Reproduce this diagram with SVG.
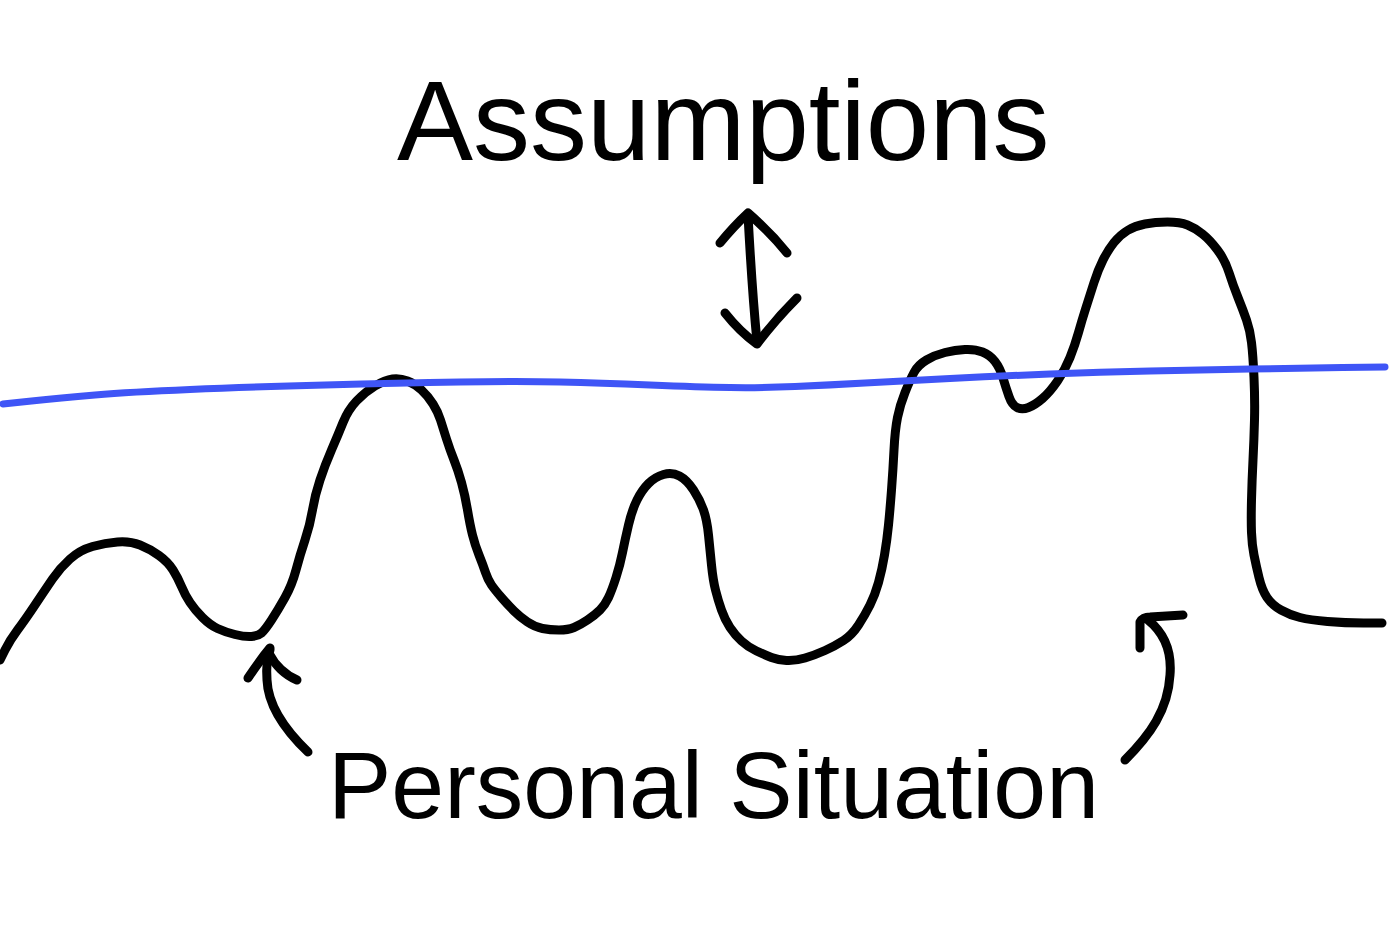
<svg xmlns="http://www.w3.org/2000/svg" width="1400" height="929" viewBox="0 0 1400 929">
<style>
.ink{fill:none;stroke:#000;stroke-width:9;stroke-linecap:round;stroke-linejoin:round}
.blue{fill:none;stroke:#3f55f6;stroke-width:7;stroke-linecap:round;stroke-linejoin:round}
.lbl{font-family:"Liberation Sans",Arial,sans-serif;fill:#000}
</style>
<rect width="1400" height="929" fill="#fff"/>
<g id="situation-curve">
<path class="ink" d="M0,660 L5,650 Q10,640 17.5,630 Q25,620 35,605 Q45,590 52.5,579 Q60,568 70,559 Q80,550 92.5,546.5 Q105,543 117.5,542 Q130,541 140,545 Q150,549 159,555.5 Q168,562 173,570 Q178,578 181.5,586.5 Q185,595 190,602.5 Q195,610 202.5,617.5 Q210,625 217.5,628.5 Q225,632 235,634.5 Q245,637 251.5,636.5 Q258,636 261.5,633 Q265,630 271.5,620 Q278,610 285,597.5 Q292,585 296,570 Q300,555 305,540 Q310,525 312.5,510 Q315,495 320,480 Q325,465 331.5,450 Q338,435 343,422.5 Q348,410 356.5,401 Q365,392 375,386 Q385,380 392.5,379 Q400,378 407.5,381 Q415,384 421.5,390 Q428,396 433,404 Q438,412 440.5,420 Q443,428 446.5,439 Q450,450 454,460 Q458,470 461.5,482.5 Q465,495 467.5,510 Q470,525 472.5,535 Q475,545 479,555 Q483,565 485.5,572.5 Q488,580 491.5,585 Q495,590 501.5,597.5 Q508,605 514,611 Q520,617 527.5,622 Q535,627 542.5,628.5 Q550,630 559,630 Q568,630 574,627.5 Q580,625 587.5,620 Q595,615 600,610 Q605,605 608.5,597.5 Q612,590 616,577.5 Q620,565 622.5,552.5 Q625,540 628.5,525 Q632,510 637,500 Q642,490 648.5,483.5 Q655,477 663.5,474.5 Q672,472 679.5,476 Q687,480 693.5,490 Q700,500 703.5,510 Q707,520 708.5,535 Q710,550 711.5,565 Q713,580 715.5,590 Q718,600 721.5,610 Q725,620 730,627.5 Q735,635 741.5,641 Q748,647 756.5,651 Q765,655 771.5,657.5 Q778,660 786.5,660.5 Q795,661 805,658 Q815,655 825,650.5 Q835,646 843.5,640.5 Q852,635 858.5,625 Q865,615 870,605 Q875,595 878.5,582.5 Q882,570 884.5,555 Q887,540 888.5,525 Q890,510 891.5,490 Q893,470 894,450 Q895,430 897.5,417.5 Q900,405 905,392.5 Q910,380 914,372.5 Q918,365 926.5,360 Q935,355 945,352.5 Q955,350 965,349.5 Q975,349 982.5,352 Q990,355 995,361.5 Q1000,368 1003,378 Q1006,388 1009,396.5 Q1012,405 1017,407.5 Q1022,410 1028.5,407.5 Q1035,405 1042.5,398.5 Q1050,392 1057.5,381 Q1065,370 1070,357.5 Q1075,345 1078.5,332.5 Q1082,320 1086,307.5 Q1090,295 1094,282.5 Q1098,270 1103,260 Q1108,250 1114,242.5 Q1120,235 1127.5,230.5 Q1135,226 1145,224 Q1155,222 1167.5,222 Q1180,222 1187.5,225 Q1195,228 1202.5,234 Q1210,240 1217.5,250 Q1225,260 1229,272.5 Q1233,285 1238,297.5 Q1243,310 1246.5,320 Q1250,330 1251.5,342.5 Q1253,355 1254,377.5 Q1255,400 1254.5,420 Q1254,440 1253,460 Q1252,480 1251.5,500 Q1251,520 1251.5,532.5 Q1252,545 1254,555 Q1256,565 1259,577.5 Q1262,590 1267,597.5 Q1272,605 1281,610 Q1290,615 1300,617.5 Q1310,620 1327.5,621.5 Q1345,623 1363.5,623 L1382,623"/>
</g>
<g id="assumptions-line">
<path class="blue" d="M3,404 L31.5,401 Q60,398 95,395 Q130,392 190,389.5 Q250,387 325,385 Q400,383 460,382 Q520,381 560,382 Q600,383 650,385 Q700,387 730,387.5 Q760,388 795,386.5 Q830,385 865,383 Q900,381 950,378.5 Q1000,376 1050,374 Q1100,372 1150,371 Q1200,370 1250,369 Q1300,368 1342.5,367.5 L1385,367"/>
</g>
<g id="connectors">
<path class="ink" d="M748,215 Q752,290 757,342"/>
<path class="ink" d="M720,243 Q734,226 748,213 Q770,232 787,253"/>
<path class="ink" d="M725,313 Q740,332 757,344 Q775,320 797,298"/>
<path class="ink" d="M308,752 C285,730 268,705 267,680 C266,665 268,655 270,650"/>
<path class="ink" d="M248,678 Q260,660 270,648"/>
<path class="ink" d="M270,655 C275,665 285,675 297,680"/>
<path class="ink" d="M1125,760 C1150,735 1168,710 1170,675 C1172,650 1163,632 1148,620"/>
<path class="ink" d="M1140,648 L1140,622 Q1143,617 1150,617 L1183,615"/>
</g>
<g id="label-assumptions">
<text class="lbl" x="397" y="160" font-size="114">Assumptions</text>
</g>
<g id="label-personal-situation">
<text class="lbl" x="328" y="818" font-size="95">Personal Situation</text>
</g>
</svg>
